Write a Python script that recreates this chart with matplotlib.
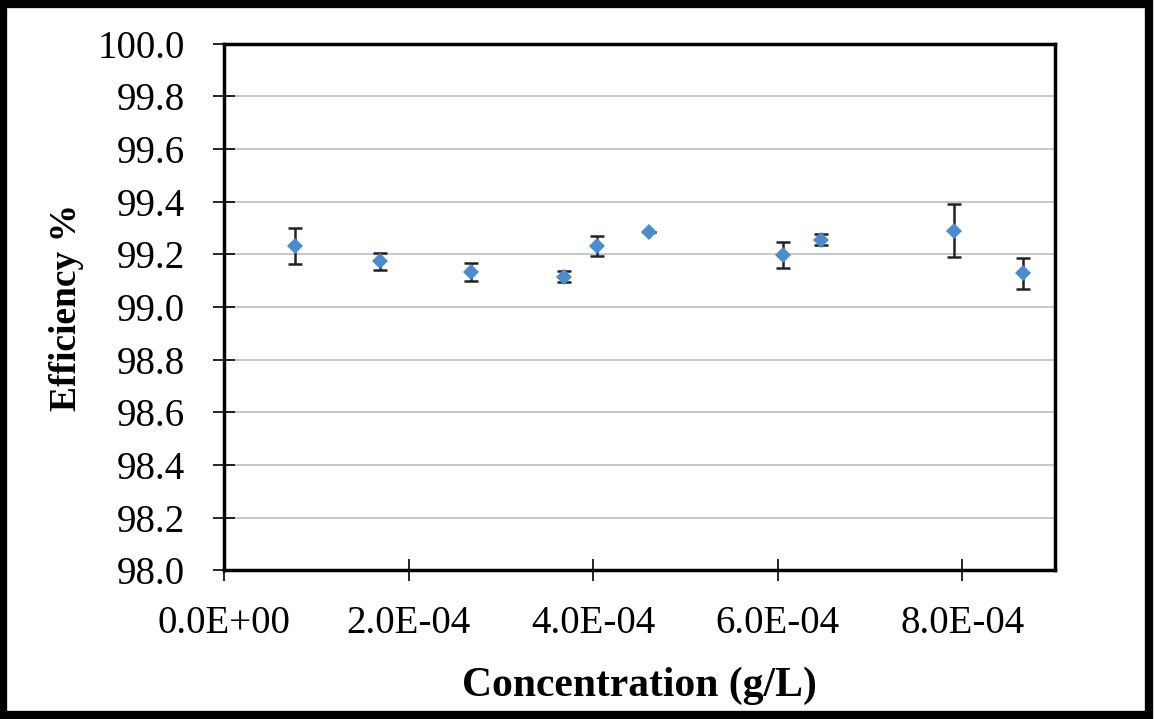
import matplotlib
matplotlib.use("Agg")
import matplotlib.pyplot as plt
from matplotlib.patches import Rectangle
from matplotlib.ticker import FuncFormatter

# data
conc = [0.77e-4, 1.69e-4, 2.68e-4, 3.68e-4, 4.04e-4, 4.60e-4, 6.06e-4, 6.47e-4, 7.91e-4, 8.66e-4]
eff = [99.232, 99.174, 99.134, 99.115, 99.232, 99.284, 99.198, 99.255, 99.290, 99.128]
err = [0.070, 0.032, 0.034, 0.021, 0.039, 0.0, 0.050, 0.021, 0.100, 0.058]

x_ticks = [0, 2e-4, 4e-4, 6e-4, 8e-4]
y_ticks = [98.0, 98.2, 98.4, 98.6, 98.8, 99.0, 99.2, 99.4, 99.6, 99.8, 100.0]

plt.rcParams['font.family'] = ['Liberation Serif', 'DejaVu Serif']

fig = plt.figure(figsize=(11.54, 7.19), dpi=100)
ax = fig.add_axes([0.194, 0.207, 0.720, 0.732])

# grid
for y in y_ticks[1:-1]:
    ax.axhline(y, color='#c4c4c4', lw=1.3, zorder=0)

ax.errorbar(conc, eff, yerr=err, fmt='none', ecolor='#222222', elinewidth=1.8,
            capsize=5, capthick=1.8, zorder=2)
ax.plot(conc, eff, 'D', color='#4a8ccc', markersize=8, markeredgewidth=0, zorder=3)

ax.set_xlim(0, 9e-4)
ax.set_ylim(98.0, 100.0)
ax.set_xticks(x_ticks)
ax.set_yticks(y_ticks)
ax.xaxis.set_major_formatter(FuncFormatter(lambda v, p: '%.1E' % v))
ax.yaxis.set_major_formatter(FuncFormatter(lambda v, p: '%.1f' % v))
ax.tick_params(direction='inout', length=16, width=1.2, labelsize=28)
ax.tick_params(axis='x', pad=17)
ax.tick_params(axis='y', pad=20)

for s in ax.spines.values():
    s.set_linewidth(2.5)

ax.set_xlabel('Concentration (g/L)', fontsize=30, fontweight='bold', labelpad=18)
ax.set_ylabel('Efficiency %', fontsize=27, fontweight='bold', labelpad=10)

# outer frame around the whole picture
fig.patches.append(Rectangle((0.003, 0.005), 0.993, 0.99, transform=fig.transFigure,
                             fill=False, edgecolor='black', linewidth=6))

fig.savefig('out.png', dpi=100)
